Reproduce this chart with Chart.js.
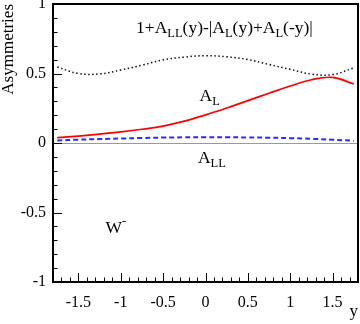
<!DOCTYPE html>
<html><head><meta charset="utf-8">
<script src="https://cdn.jsdelivr.net/npm/chart.js@4/dist/chart.umd.min.js"></script>
<style>html,body{margin:0;padding:0;background:#fff}#wrap{width:360px;height:324px}</style>
</head><body><div id="wrap"><canvas id="c" width="360" height="324"></canvas></div>
<script>
// ---- data ----
const xs     = [-1.75,-1.5,-1.25,-1.0,-0.75,-0.5,-0.25,0.0,0.25,0.5,0.75,1.0,1.25,1.5,1.75];
const aL     = [0.038,0.050,0.064,0.080,0.099,0.122,0.157,0.202,0.252,0.305,0.358,0.410,0.455,0.472,0.425];
const aLL    = [0.018,0.024,0.028,0.032,0.036,0.039,0.041,0.042,0.041,0.040,0.038,0.035,0.030,0.024,0.016];
const combo  = [0.547,0.500,0.497,0.525,0.560,0.598,0.618,0.628,0.620,0.600,0.565,0.530,0.496,0.492,0.540];
const xTickLabels = [-1.5,-1,-0.5,0,0.5,1,1.5];
const yTickLabels = [-1,-0.5,0,0.5,1];

const FONT = '"Liberation Serif","Times New Roman",serif';
const pts = a => xs.map((x,i)=>({x, y:a[i]}));

// annotation texts (segments: normal / sub / sup)
const notes = [
  {x:-0.82, y:0.788, segs:[['1+A'],['LL','sub'],['(y)-|A'],['L','sub'],['(y)+A'],['L','sub'],['(-y)|']]},
  {x:-0.07, y:0.300, segs:[['A'],['L','sub']]},
  {x:-0.09, y:-0.144,segs:[['A'],['LL','sub']]},
  {x:-1.18, y:-0.647,segs:[['W'],['-','sup']]}
];

function isLab(v, list){ return list.find(l => Math.abs(l - v) < 1e-6); }

const decor = {
  id:'decor',
  beforeDatasetsDraw(chart){
    const {ctx, chartArea:a, scales:{x, y}} = chart;
    ctx.save();
    const y0 = y.getPixelForValue(0);
    ctx.strokeStyle = '#999'; ctx.lineWidth = 1;
    ctx.beginPath(); ctx.moveTo(a.left, Math.round(y0)+0.5); ctx.lineTo(a.right, Math.round(y0)+0.5); ctx.stroke();
    ctx.restore();
  },
  afterDraw(chart){
    const {ctx, chartArea:a, scales:{x, y}} = chart;
    ctx.save();
    ctx.strokeStyle = '#000'; ctx.lineWidth = 1;
    x.ticks.forEach(t => {
      const major = isLab(t.value, xTickLabels) !== undefined;
      const px = Math.round(x.getPixelForValue(t.value)) + 0.5;
      ctx.beginPath(); ctx.moveTo(px, a.bottom); ctx.lineTo(px, a.bottom - (major ? 9 : 4.5)); ctx.stroke();
    });
    y.ticks.forEach(t => {
      const major = isLab(t.value, yTickLabels) !== undefined;
      const py = Math.round(y.getPixelForValue(t.value)) + 0.5;
      ctx.beginPath(); ctx.moveTo(a.left, py); ctx.lineTo(a.left + (major ? 9 : 4.5), py); ctx.stroke();
    });
    ctx.lineWidth = 2;
    ctx.strokeRect(a.left, a.top, a.right - a.left, a.bottom - a.top);
    ctx.fillStyle = '#000';
    ctx.textBaseline = 'alphabetic'; ctx.textAlign = 'left';
    notes.forEach(n => {
      let px = x.getPixelForValue(n.x), py = y.getPixelForValue(n.y);
      n.segs.forEach(([t, k]) => {
        let size = 17.5, dy = 0;
        if (k === 'sub') { size = 12.5; dy = 4; }
        if (k === 'sup') { size = 12.5; dy = -8; }
        ctx.font = size + 'px ' + FONT;
        ctx.fillText(t, px, py + dy);
        px += ctx.measureText(t).width;
      });
    });
    ctx.restore();
  }
};

new Chart(document.getElementById('c'), {
  type:'line',
  data:{ datasets:[
    {data:pts(combo), borderColor:'#111', borderWidth:1.5, borderDash:[1.5,2.5], pointRadius:0, tension:0.4},
    {data:pts(aL), borderColor:'#ff0000', borderWidth:1.7, pointRadius:0, tension:0.4},
    {data:pts(aLL), borderColor:'#2a2aff', borderWidth:2, borderDash:[5,3], pointRadius:0, tension:0.4}
  ]},
  options:{
    responsive:false, animation:false, devicePixelRatio:1,
    layout:{padding:{left:0, top:4, right:2, bottom:0}},
    plugins:{legend:{display:false}, tooltip:{enabled:false}},
    scales:{
      x:{type:'linear', min:-1.8, max:1.8,
        grid:{display:false, drawTicks:false}, border:{display:false},
        ticks:{stepSize:0.1, autoSkip:false, maxRotation:0, padding:11, color:'#000',
          font:{family:FONT, size:16},
          callback:v => { const l = isLab(v, xTickLabels); return l === undefined ? '' : String(l); }},
        title:{display:true, text:'y', align:'end', color:'#000', font:{family:FONT, size:17, lineHeight:1}, padding:{top:0, bottom:3.5}},
        afterFit:s => { s.height = 42; s.paddingLeft = 0; s.paddingRight = 0; }
      },
      y:{type:'linear', min:-1, max:1,
        grid:{display:false, drawTicks:false}, border:{display:false},
        ticks:{stepSize:0.1, autoSkip:false, padding:7, color:'#000',
          font:{family:FONT, size:16},
          callback:v => { const l = isLab(v, yTickLabels); return l === undefined ? '' : String(l); }},
        title:{display:true, text:'Asymmetries', align:'end', color:'#000', font:{family:FONT, size:17, lineHeight:1}, padding:{top:0, bottom:0}},
        afterFit:s => { s.width = 53; s.paddingTop = 0; s.paddingBottom = 0; }
      }
    }
  },
  plugins:[decor]
});
</script></body></html>
